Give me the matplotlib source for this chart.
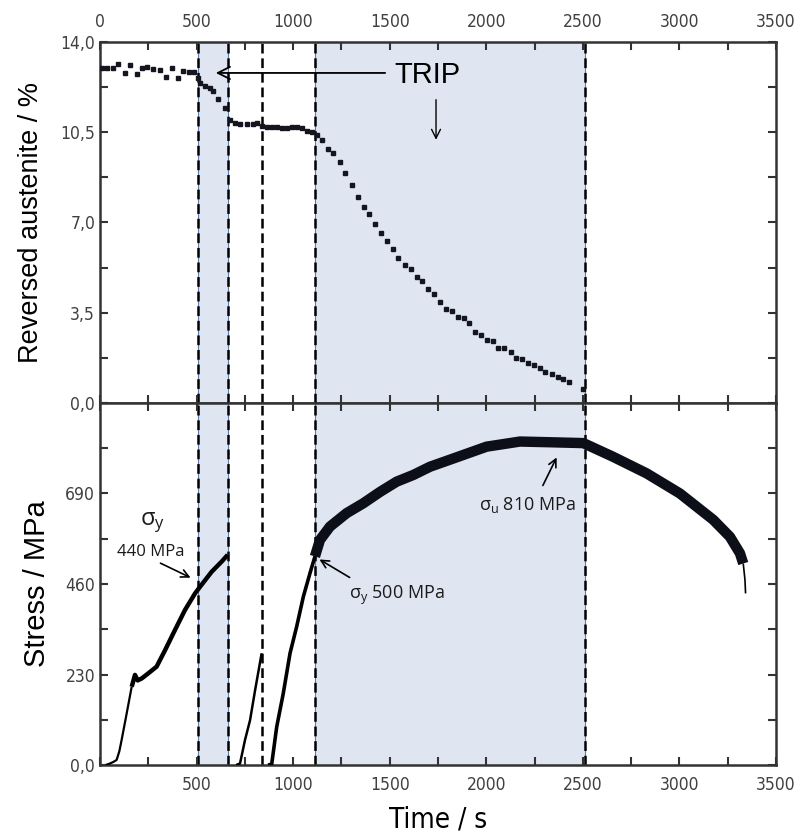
import matplotlib
matplotlib.use("Agg")
import matplotlib.pyplot as plt
from matplotlib.ticker import MultipleLocator, FixedLocator, FuncFormatter

plt.rcParams['font.family'] = ['DejaVu Sans']
plt.rcParams['font.stretch'] = 'condensed'
plt.rcParams['mathtext.fontset'] = 'custom'
plt.rcParams['mathtext.rm'] = 'Open Sans:stretch=normal'
plt.rcParams['mathtext.it'] = 'Open Sans:stretch=normal'
plt.rcParams['mathtext.bf'] = 'Open Sans:stretch=normal'
plt.rcParams['lines.scale_dashes'] = False

# reversed austenite (%) vs time (s)
aus_t = [9, 35, 69, 95, 129, 155, 190, 216, 242, 276, 311, 342, 371, 402, 431, 462, 488, 509,
         518, 544, 570, 587, 613, 647, 673, 699, 725, 760, 794, 815, 837, 863, 889, 915, 941,
         967, 993, 1018, 1044, 1070, 1096, 1122, 1148, 1182, 1208, 1243, 1269, 1303, 1338,
         1365, 1393, 1423, 1455, 1486, 1516, 1543, 1578, 1608, 1640, 1668, 1700, 1728, 1763,
         1791, 1821, 1855, 1885, 1913, 1941, 1973, 2005, 2033, 2063, 2094, 2126, 2156, 2186,
         2218, 2248, 2278, 2306, 2341, 2371, 2398, 2428, 2500]
aus_v = [12.98, 12.98, 13.0, 13.13, 12.78, 13.1, 12.76, 12.98, 13.04, 12.95, 12.91, 12.63, 12.98,
         12.61, 12.87, 12.85, 12.82, 12.59, 12.42, 12.29, 12.20, 12.11, 11.79, 11.45, 10.97,
         10.87, 10.82, 10.81, 10.82, 10.85, 10.75, 10.71, 10.71, 10.69, 10.65, 10.67, 10.71,
         10.71, 10.65, 10.55, 10.50, 10.39, 10.20, 9.85, 9.71, 9.36, 8.91, 8.45, 8.0,
         7.61, 7.33, 6.94, 6.58, 6.29, 5.97, 5.64, 5.35, 5.20, 4.87, 4.74, 4.42, 4.23, 3.93,
         3.64, 3.58, 3.35, 3.28, 3.09, 2.76, 2.64, 2.44, 2.39, 2.14, 2.12, 1.96, 1.73, 1.71,
         1.54, 1.47, 1.34, 1.21, 1.12, 1.02, 0.92, 0.80, 0.53]

# stress (MPa) vs time (s), loading segments
load1_t = [30, 52, 70, 86, 100, 112, 138, 164]
load1_s = [0, 4, 8, 13, 35, 64, 131, 199]
yield1_t = [164, 175, 181, 195, 216, 250, 293, 337, 388, 440, 492, 518, 578, 630, 661]
yield1_s = [199, 218, 229, 215, 220, 233, 250, 292, 343, 394, 436, 453, 491, 517, 534]
load2_t = [705, 725, 751, 777, 803, 837]
load2_s = [0, 4, 64, 114, 190, 284]
load3_t = [870, 889, 915, 949, 984, 1018, 1053, 1087, 1113]
load3_s = [0, 2, 97, 182, 284, 351, 428, 487, 530]
plast_t = [1113, 1139, 1191, 1277, 1363, 1450, 1536, 1622, 1709, 1830, 2002, 2175, 2347,
           2503, 2658, 2831, 3003, 3176, 3262, 3314, 3331]
plast_s = [530, 572, 606, 640, 665, 694, 720, 737, 758, 779, 809, 822, 820,
           818, 783, 741, 690, 623, 580, 538, 512]
break_t = [3331, 3340, 3343]
break_s = [512, 470, 436]

shaded = [(505, 665), (1113, 2510)]
dashed = [505, 665, 840, 1113, 2510]

fig = plt.figure(figsize=(7.97, 8.35), dpi=100)
ax1 = fig.add_axes([0.1255, 0.5174, 0.848, 0.4323])
ax2 = fig.add_axes([0.1255, 0.0838, 0.848, 0.4336])

for ax in (ax1, ax2):
    for a, b in shaded:
        ax.axvspan(a, b, facecolor='#dfe6f2', edgecolor='#5b7db0', lw=0.8, zorder=0)
    for d in dashed:
        ax.axvline(d, color='black', lw=1.8, dashes=(7, 3.5), zorder=1)
    ax.set_xlim(0, 3500)
    ax.xaxis.set_major_locator(MultipleLocator(500))
    ax.xaxis.set_minor_locator(MultipleLocator(250))
    ax.tick_params(which='both', direction='in', top=True, right=True, width=1.5,
                   length=6, colors='#333333', labelcolor='#404040', labelsize=12.5)
    for s in ax.spines.values():
        s.set_linewidth(1.8)
        s.set_color('#333333')

ax1.plot(aus_t, aus_v, ls='none', marker='s', ms=2.6, color='#15151f', zorder=3)
ax1.set_ylim(0, 14)
ax1.yaxis.set_major_locator(MultipleLocator(3.5))
ax1.yaxis.set_minor_locator(MultipleLocator(1.75))
ax1.yaxis.set_major_formatter(FuncFormatter(lambda v, p: ('%.1f' % v).replace('.', ',')))
ax1.tick_params(axis='x', labeltop=True, labelbottom=False, pad=8)
ax1.set_ylabel('Reversed austenite / %', family='Liberation Sans', fontstretch='normal',
               fontsize=19.5, labelpad=12)

ax1.text(1693, 12.72, 'TRIP', family='Liberation Sans', fontstretch='normal', fontsize=21,
         ha='center', va='center')
ax1.annotate('', xy=(585, 12.80), xytext=(1491, 12.80),
             arrowprops=dict(arrowstyle='->', lw=1.3, color='black', mutation_scale=22))
ax1.annotate('', xy=(1740, 10.1), xytext=(1740, 11.87),
             arrowprops=dict(arrowstyle='->', lw=1.0, color='black', mutation_scale=16))

ax2.plot(load1_t, load1_s, color='black', lw=1.6, solid_capstyle='butt', zorder=3)
ax2.plot(yield1_t, yield1_s, color='black', lw=3.2, solid_capstyle='butt', zorder=3)
ax2.plot(load2_t, load2_s, color='black', lw=1.8, solid_capstyle='butt', zorder=3)
ax2.plot(load3_t, load3_s, color='black', lw=2.6, solid_capstyle='butt', zorder=3)
ax2.plot(plast_t, plast_s, color='#0d0f18', lw=7.5, solid_capstyle='butt', zorder=3)
ax2.plot(break_t, break_s, color='black', lw=1.2, solid_capstyle='butt', zorder=3)
ax2.set_ylim(0, 920)
ax2.yaxis.set_major_locator(FixedLocator([0, 230, 460, 690]))
ax2.yaxis.set_minor_locator(MultipleLocator(115))
ax2.yaxis.set_major_formatter(FuncFormatter(lambda v, p: '0,0' if v == 0 else '%d' % v))
ax2.xaxis.set_major_formatter(FuncFormatter(lambda v, p: '' if v == 0 else '%d' % v))
ax2.tick_params(axis='x', pad=8)
ax2.set_ylabel('Stress / MPa', family='Liberation Sans', fontstretch='normal',
               fontsize=21, labelpad=10)
ax2.set_xlabel('Time / s', fontsize=20, labelpad=8)

ann = dict(family='Open Sans', fontstretch='normal', color='#1a1a1a')
ax2.text(269, 617, r'$\sigma_\mathrm{y}$', fontsize=17, ha='center', va='center', **ann)
ax2.text(264, 541, '440 MPa', fontsize=12, ha='center', va='center', **ann)
ax2.annotate('', xy=(482, 473), xytext=(300, 516),
             arrowprops=dict(arrowstyle='->', lw=1.2, color='black', mutation_scale=14))
ax2.text(1290, 432, r'$\sigma_\mathrm{y}$ 500 MPa', fontsize=13, ha='left', va='center', **ann)
ax2.annotate('', xy=(1124, 526), xytext=(1305, 473),
             arrowprops=dict(arrowstyle='->', lw=1.2, color='black', mutation_scale=14))
ax2.text(2216, 661, r'$\sigma_\mathrm{u}$ 810 MPa', fontsize=13, ha='center', va='center', **ann)
ax2.annotate('', xy=(2371, 788), xytext=(2287, 704),
             arrowprops=dict(arrowstyle='->', lw=1.2, color='black', mutation_scale=14))

fig.savefig('out.png', dpi=100)
